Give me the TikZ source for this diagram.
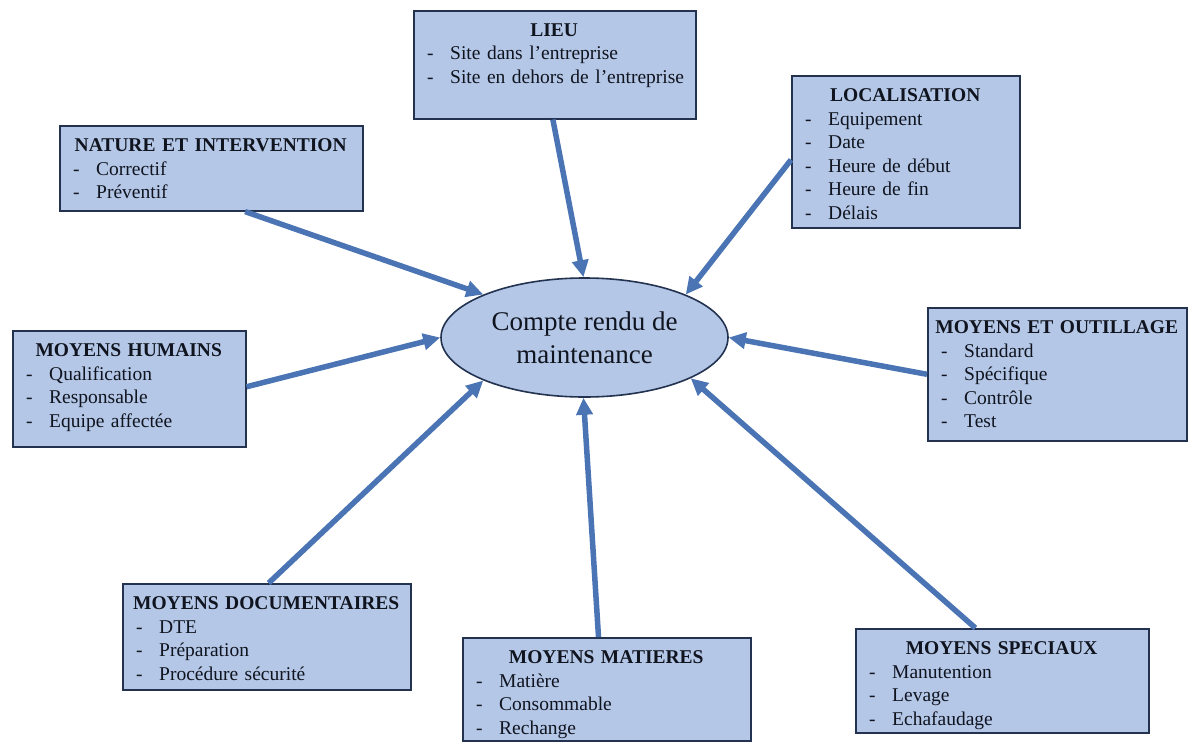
\documentclass[tikz,border=0pt]{standalone}
\usepackage{fontspec}
\setmainfont{Liberation Serif}
\usepackage{xcolor}
\usepackage{tikz}
\usetikzlibrary{arrows.meta, shapes.geometric}
\definecolor{boxfill}{HTML}{B4C7E7}
\definecolor{boxline}{HTML}{22324F}
\definecolor{arrowblue}{HTML}{4A74B4}
\definecolor{inktext}{HTML}{10141F}
\def\itemGap{23pt}
\newcommand{\dashline}[1]{\noindent\mbox{\makebox[\itemGap][l]{-}#1}\par}
\newcommand{\infobox}[6]{%
% #1 = name, #2 = north west corner, #3 = width, #4 = height, #5 = title, #6 = lines
\node[boxframe, minimum width=#3pt, minimum height=#4pt] (#1) at #2 {};
\node[boxtext, text width=\the\numexpr#3-28\relax pt] (#1-txt)
  at ([xshift=14pt,yshift=-13.5pt]#1.north west)
  {\noindent\makebox[\linewidth][c]{\bfseries #5}\par #6};
}
\begin{document}
\begin{tikzpicture}[
    x=1pt, y=-1pt,
    boxframe/.style={draw=boxline, line width=1.6pt, fill=boxfill, anchor=north west, inner sep=0pt},
    boxtext/.style={anchor=north west, inner sep=0pt, align=left, text=inktext, font=\fontsize{19.5}{23.5}\selectfont},
    link/.style={draw=arrowblue, line width=5.5pt, -{Triangle[length=17pt,width=16pt]}}
]
\useasboundingbox (0,0) rectangle (1188,742);
\node[ellipse, draw=boxline, line width=1.6pt, fill=boxfill, minimum width=287pt, minimum height=119pt,
  inner sep=0pt, align=center, text=inktext, font=\fontsize{27}{33}\selectfont] (crm) at (584.5,337.5)
  {Compte rendu de\\maintenance};
\infobox{lieu}{(413,10)}{282}{108}{LIEU}{\dashline{Site dans l’entreprise}\dashline{Site en dehors de l’entreprise}}
\infobox{nature}{(59,125)}{303}{85}{NATURE ET INTERVENTION}{\dashline{Correctif}\dashline{Préventif}}
\infobox{loc}{(791,75)}{228}{152}{LOCALISATION}{\dashline{Equipement}\dashline{Date}\dashline{Heure de début}\dashline{Heure de fin}\dashline{Délais}}
\infobox{hum}{(12,330)}{233}{116}{MOYENS HUMAINS}{\dashline{Qualification}\dashline{Responsable}\dashline{Equipe affectée}}
\infobox{outil}{(927,307)}{259}{133}{MOYENS ET OUTILLAGE}{\dashline{Standard}\dashline{Spécifique}\dashline{Contrôle}\dashline{Test}}
\infobox{doc}{(122,583)}{288}{106}{MOYENS DOCUMENTAIRES}{\dashline{DTE}\dashline{Préparation}\dashline{Procédure sécurité}}
\infobox{mat}{(462,637)}{288}{103}{MOYENS MATIERES}{\dashline{Matière}\dashline{Consommable}\dashline{Rechange}}
\infobox{spec}{(855,628)}{293}{104}{MOYENS SPECIAUX}{\dashline{Manutention}\dashline{Levage}\dashline{Echafaudage}}
\draw[link] (lieu.-92) -- (crm.91);
\draw[link] (nature.-52.6) -- (crm.157.5);
\draw[link] (loc.184.5) -- (crm.23.3);
\draw[link] (hum.1.5) -- (crm.180);
\draw[link] (outil.west) -- (crm.east);
\draw[link] (doc.88) -- (crm.203.5);
\draw[link] (mat.99) -- (crm.-91.4);
\draw[link] (spec.117) -- (crm.-21.4);
\end{tikzpicture}
\end{document}
